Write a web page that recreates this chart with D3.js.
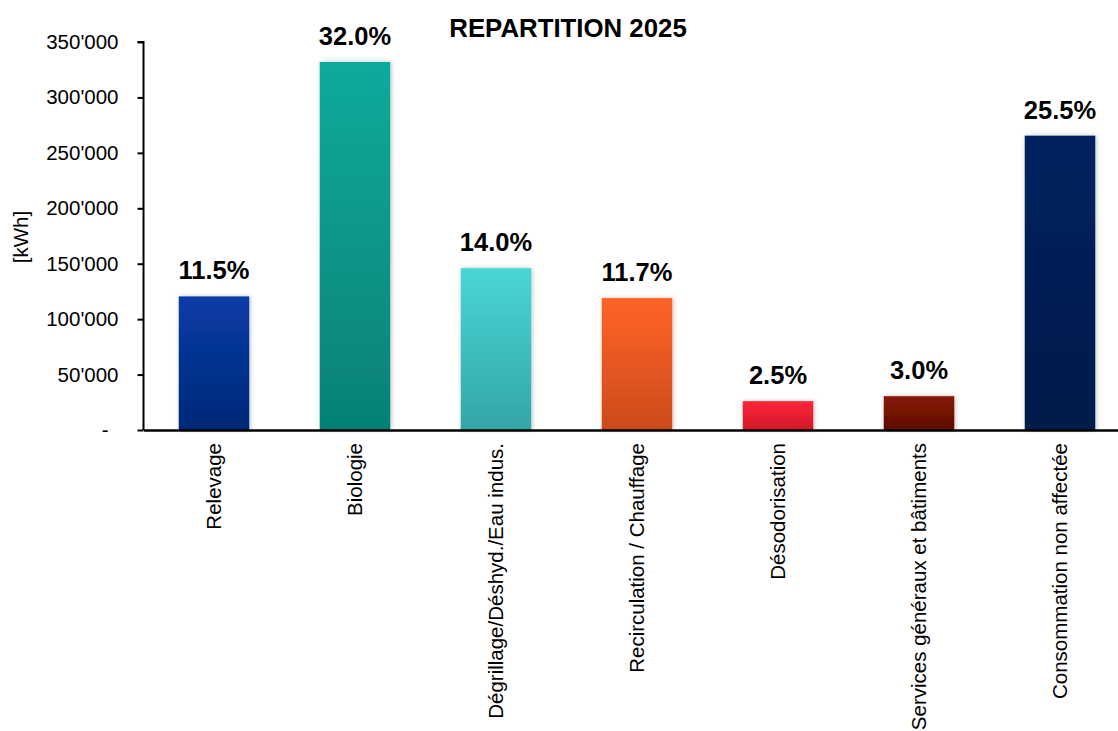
<!DOCTYPE html>
<html>
<head>
<meta charset="utf-8">
<script src="https://cdn.jsdelivr.net/npm/d3@7/dist/d3.min.js"></script>
<style>
  html, body { margin: 0; padding: 0; background: #fff; }
  svg { display: block; font-family: "Liberation Sans", Arial, sans-serif; }
</style>
</head>
<body>
<svg id="chart" width="1118" height="731"></svg>
<script>
// Energy consumption by process area, 2025
const categories = [
  "Relevage",
  "Biologie",
  "Dégrillage/Déshyd./Eau indus.",
  "Recirculation / Chauffage",
  "Désodorisation",
  "Services généraux et bâtiments",
  "Consommation non affectée"
];
const consumptionKWh = [120500, 332000, 146000, 119000, 26000, 30500, 265500];
const shareLabels = [11.5, 32.0, 14.0, 11.7, 2.5, 3.0, 25.5];
const yTicks = [0, 50000, 100000, 150000, 200000, 250000, 300000, 350000];
const barTopColors = ["#083ca8", "#0cab9c", "#4ad6d6", "#ff6427", "#ff2636", "#8a1a08", "#06225f"];
const barBottomColors = ["#032877", "#068074", "#33a6a8", "#cc4a1c", "#d0182a", "#5c0b02", "#021b4a"];

const svg = d3.select("#chart");
const margin = { left: 143.5, top: 42, bottom: 430 };
const step = 141;

const x = d3.scaleBand()
  .domain(categories)
  .range([margin.left, margin.left + step * categories.length])
  .paddingInner(0.5)
  .paddingOuter(0.25);

const y = d3.scaleLinear().domain([0, 350000]).range([margin.bottom, margin.top]);

const locale = d3.formatLocale({ decimal: ".", thousands: "'", grouping: [3], currency: ["", ""] });
const fmt = locale.format(",d");

// gradients + soft shadow
const defs = svg.append("defs");
categories.forEach((c, i) => {
  const g = defs.append("linearGradient")
    .attr("id", "grad" + i)
    .attr("x1", 0).attr("y1", 0).attr("x2", 0).attr("y2", 1);
  g.append("stop").attr("offset", "0%").attr("stop-color", barTopColors[i]);
  g.append("stop").attr("offset", "100%").attr("stop-color", barBottomColors[i]);
});
const shadow = defs.append("filter").attr("id", "shadow")
  .attr("x", "-20%").attr("y", "-10%").attr("width", "140%").attr("height", "120%");
shadow.append("feDropShadow")
  .attr("dx", 1).attr("dy", 0).attr("stdDeviation", 2)
  .attr("flood-color", "#000").attr("flood-opacity", 0.25);

// title
svg.append("text")
  .attr("x", 568).attr("y", 37)
  .attr("text-anchor", "middle")
  .attr("font-weight", "bold")
  .attr("font-size", 25.8)
  .attr("fill", "#000")
  .text("REPARTITION 2025");

// bars
svg.append("g").selectAll("rect")
  .data(categories)
  .join("rect")
  .attr("x", d => x(d))
  .attr("width", x.bandwidth())
  .attr("y", (d, i) => y(consumptionKWh[i]))
  .attr("height", (d, i) => y(0) - y(consumptionKWh[i]))
  .attr("fill", (d, i) => `url(#grad${i})`)
  .attr("filter", "url(#shadow)");

// share labels
svg.append("g").selectAll("text")
  .data(categories)
  .join("text")
  .attr("x", d => x(d) + x.bandwidth() / 2)
  .attr("y", (d, i) => y(consumptionKWh[i]) - 17)
  .attr("text-anchor", "middle")
  .attr("font-weight", "bold")
  .attr("font-size", 25.5)
  .attr("fill", "#000")
  .text((d, i) => shareLabels[i].toFixed(1) + "%");

// y axis
const yAxis = d3.axisLeft(y)
  .tickValues(yTicks)
  .tickSize(6)
  .tickPadding(19)
  .tickFormat(v => v === 0 ? "-" : fmt(v));
const gy = svg.append("g")
  .attr("transform", `translate(${margin.left},0)`)
  .call(yAxis);
gy.select(".domain").attr("stroke", "#000").attr("stroke-width", 2).attr("d", `M-6,${y(350000)}H0V${y(0)}`);
gy.selectAll(".tick line").attr("stroke", "#000").attr("stroke-width", 2);
gy.selectAll(".tick text")
  .attr("font-size", 20.5)
  .attr("font-family", "Liberation Sans, Arial, sans-serif")
  .attr("fill", "#000")
  .attr("x", v => v === 0 ? -35 : -25);

// x axis
const xAxis = d3.axisBottom(x).tickSize(0).tickPadding(0);
const gx = svg.append("g")
  .attr("transform", `translate(0,${margin.bottom})`)
  .call(xAxis);
gx.select(".domain").attr("stroke", "#000").attr("stroke-width", 2.5);
gx.selectAll(".tick text")
  .attr("font-size", 20.5)
  .attr("font-family", "Liberation Sans, Arial, sans-serif")
  .attr("fill", "#000")
  .attr("text-anchor", "end")
  .attr("transform", "rotate(-90)")
  .attr("x", -13)
  .attr("y", 0)
  .attr("dy", "0.35em");

// axis title
svg.append("text")
  .attr("transform", `translate(28,237) rotate(-90)`)
  .attr("text-anchor", "middle")
  .attr("font-size", 20.5)
  .attr("fill", "#000")
  .text("[kWh]");
</script>
</body>
</html>
